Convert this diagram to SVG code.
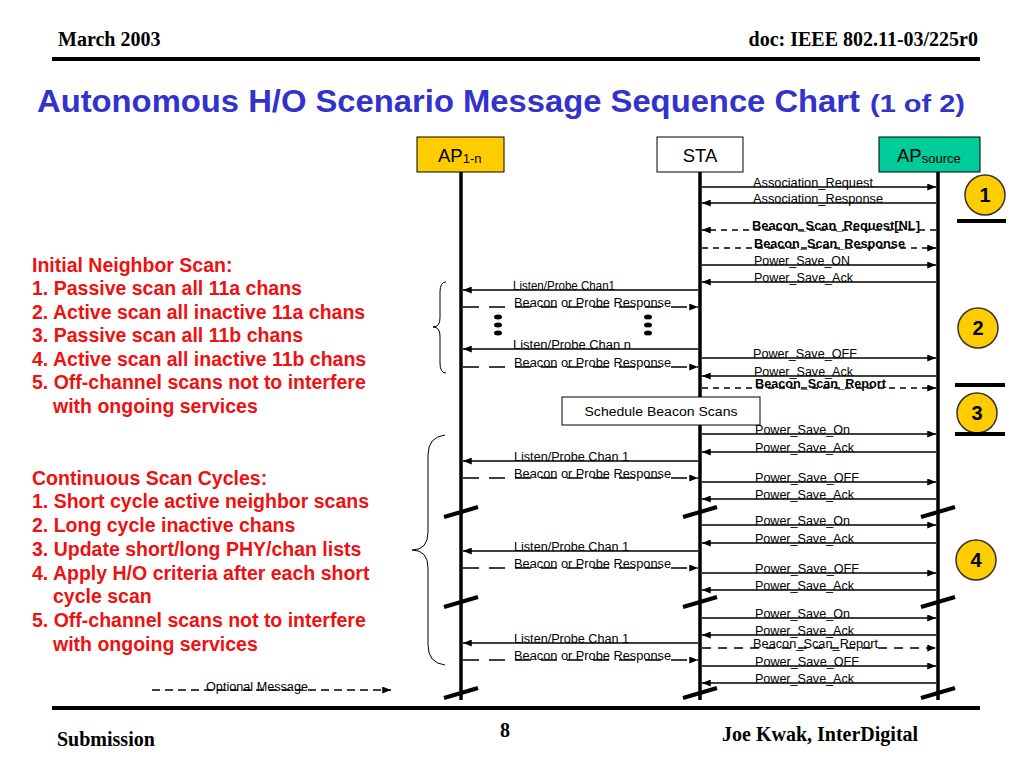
<svg xmlns="http://www.w3.org/2000/svg" width="1024" height="768" viewBox="0 0 1024 768">
<defs>
<marker id="ah" viewBox="0 0 10 8" refX="10" refY="4" markerWidth="9" markerHeight="7" markerUnits="userSpaceOnUse" orient="auto"><path d="M0,0L10,4L0,8z" fill="#000"/></marker>
</defs>
<style>
.hdr{font-family:"Liberation Serif","Times New Roman",serif;font-weight:bold;font-size:20px;fill:#000}
.title{font-family:"Liberation Sans",Arial,sans-serif;font-weight:bold;fill:#3333CC}
.red{font-family:"Liberation Sans",Arial,sans-serif;font-weight:bold;font-size:19.5px;fill:#EE1111}
.box{stroke:#000;stroke-width:1}
.head{font-family:"Liberation Sans",Arial,sans-serif;font-size:18.5px;fill:#000}
.sub{font-size:13px}
.life{stroke:#000;stroke-width:3.5}
.brk{stroke:#000;stroke-width:4}
.msg{stroke:#000;stroke-width:1.5;fill:none;marker-end:url(#ah)}
.d1{stroke-dasharray:6 5}
.d2{stroke-dasharray:16 10}
.d3{stroke-dasharray:9 7}
.d4{stroke-dasharray:8 5}
.lbl{font-family:"Liberation Sans",Arial,sans-serif;font-size:12.5px;fill:#000}
.bold{font-weight:bold}
.circ{fill:#FFCC00;stroke:#333;stroke-width:1.5}
.num{font-family:"Liberation Sans",Arial,sans-serif;font-weight:bold;font-size:20px;fill:#000;text-anchor:middle}
.bar{stroke:#000;stroke-width:4}
.rule{stroke:#000;stroke-width:4}
.brace{fill:none;stroke:#000;stroke-width:1}
</style>

<g id="page">
<text class="hdr" x="58" y="46">March 2003</text>
<text class="hdr" x="978" y="46" text-anchor="end">doc: IEEE 802.11-03/225r0</text>
<line class="rule" x1="52" y1="59" x2="980" y2="59"/>
<text class="title" x="37" y="112" font-size="32" textLength="823" lengthAdjust="spacingAndGlyphs">Autonomous H/O Scenario Message Sequence Chart</text>
<text class="title" x="870" y="112" font-size="23" textLength="95" lengthAdjust="spacingAndGlyphs">(1 of 2)</text>
<line class="rule" x1="52" y1="708" x2="980" y2="708"/>
<text class="hdr" x="57" y="746">Submission</text>
<text class="hdr" x="505" y="737" text-anchor="middle">8</text>
<text class="hdr" x="722" y="741">Joe Kwak, InterDigital</text>
</g>

<g id="notes">
<text class="red" x="32" y="272">Initial Neighbor Scan:</text>
<text class="red" x="32" y="295">1. Passive scan all 11a chans</text>
<text class="red" x="32" y="319">2. Active scan all inactive 11a chans</text>
<text class="red" x="32" y="342">3. Passive scan all 11b chans</text>
<text class="red" x="32" y="366">4. Active scan all inactive 11b chans</text>
<text class="red" x="32" y="389">5. Off-channel scans not to interfere</text>
<text class="red" x="53" y="413">with ongoing services</text>
<text class="red" x="32" y="485">Continuous Scan Cycles:</text>
<text class="red" x="32" y="508">1. Short cycle active neighbor scans</text>
<text class="red" x="32" y="532">2. Long cycle inactive chans</text>
<text class="red" x="32" y="556">3. Update short/long PHY/chan lists</text>
<text class="red" x="32" y="580">4. Apply H/O criteria after each short</text>
<text class="red" x="53" y="603">cycle scan</text>
<text class="red" x="32" y="627">5. Off-channel scans not to interfere</text>
<text class="red" x="53" y="651">with ongoing services</text>
<path class="brace" d="M446,282 Q440,282 440,292 L440,318 Q440,327 433,327 Q440,327 440,336 L440,363 Q440,373 446,373"/>
<path class="brace" d="M445,435 Q428,437 428,455 L428,532 Q428,550 412,550 Q428,550 428,568 L428,645 Q428,663 445,665"/>
</g>

<g id="ap1n">
<rect class="box" x="417" y="137" width="87" height="35" fill="#FFCC00"/>
<text class="head" x="438" y="162">AP<tspan class="sub" dy="1">1-n</tspan></text>
<line class="life" x1="461" y1="172" x2="461" y2="700"/>
</g>
<g id="sta">
<rect class="box" x="657" y="137" width="86" height="35" fill="#FFFFFF"/>
<text class="head" x="700" y="162" text-anchor="middle">STA</text>
<line class="life" x1="700" y1="172" x2="700" y2="700"/>
</g>
<g id="apsource">
<rect class="box" x="879" y="137" width="101" height="35" fill="#00CC99"/>
<text class="head" x="897" y="162">AP<tspan class="sub" dy="1">source</tspan></text>
<line class="life" x1="938" y1="172" x2="938" y2="700"/>
</g>

<g id="breaks">
<line class="brk" x1="444" y1="517" x2="478" y2="507"/>
<line class="brk" x1="683" y1="517" x2="717" y2="507"/>
<line class="brk" x1="921" y1="517" x2="955" y2="507"/>
<line class="brk" x1="444" y1="607" x2="478" y2="597"/>
<line class="brk" x1="683" y1="607" x2="717" y2="597"/>
<line class="brk" x1="921" y1="607" x2="955" y2="597"/>
<line class="brk" x1="444" y1="698" x2="478" y2="688"/>
<line class="brk" x1="683" y1="698" x2="717" y2="688"/>
<line class="brk" x1="921" y1="698" x2="955" y2="688"/>
</g>

<g id="dots">
<ellipse cx="498" cy="317" rx="4" ry="2.5"/>
<ellipse cx="498" cy="325" rx="4" ry="2.5"/>
<ellipse cx="498" cy="333" rx="4" ry="2.5"/>
<ellipse cx="648" cy="317" rx="4" ry="2.5"/>
<ellipse cx="648" cy="325" rx="4" ry="2.5"/>
<ellipse cx="648" cy="333" rx="4" ry="2.5"/>
</g>

<g id="schedule">
<rect x="562" y="397" width="198" height="28" fill="#fff" stroke="#000" stroke-width="1"/>
<text class="lbl" x="661" y="416" font-size="13.5" text-anchor="middle" textLength="153" lengthAdjust="spacingAndGlyphs">Schedule Beacon Scans</text>
</g>

<g id="step1"><circle class="circ" cx="985" cy="195" r="20"/><text class="num" x="985" y="202">1</text></g>
<g id="step2"><circle class="circ" cx="978" cy="328" r="20"/><text class="num" x="978" y="335">2</text></g>
<g id="step3"><circle class="circ" cx="977" cy="413" r="20"/><text class="num" x="977" y="420">3</text></g>
<g id="step4"><circle class="circ" cx="976" cy="560" r="20"/><text class="num" x="976" y="567">4</text></g>
<g id="bars">
<line class="bar" x1="957" y1="221" x2="1006" y2="221"/>
<line class="bar" x1="955" y1="385" x2="1005" y2="385"/>
<line class="bar" x1="955" y1="434" x2="1005" y2="434"/>
</g>

<g id="connectors">
<line class="msg" x1="702" y1="187" x2="936" y2="187"/>
<line class="msg" x1="936" y1="203" x2="702" y2="203"/>
<line class="msg d1" x1="936" y1="230" x2="702" y2="230"/>
<line class="msg d1" x1="702" y1="248" x2="936" y2="248"/>
<line class="msg" x1="702" y1="265" x2="936" y2="265"/>
<line class="msg" x1="936" y1="282" x2="702" y2="282"/>
<line class="msg" x1="702" y1="358" x2="936" y2="358"/>
<line class="msg" x1="936" y1="376" x2="702" y2="376"/>
<line class="msg d1" x1="702" y1="388" x2="936" y2="388"/>
<line class="msg" x1="702" y1="434" x2="936" y2="434"/>
<line class="msg" x1="936" y1="452" x2="702" y2="452"/>
<line class="msg" x1="702" y1="482" x2="936" y2="482"/>
<line class="msg" x1="936" y1="499" x2="702" y2="499"/>
<line class="msg" x1="702" y1="525" x2="936" y2="525"/>
<line class="msg" x1="936" y1="543" x2="702" y2="543"/>
<line class="msg" x1="702" y1="573" x2="936" y2="573"/>
<line class="msg" x1="936" y1="590" x2="702" y2="590"/>
<line class="msg" x1="702" y1="618" x2="936" y2="618"/>
<line class="msg" x1="936" y1="635" x2="702" y2="635"/>
<line class="msg d3" x1="702" y1="648" x2="936" y2="648"/>
<line class="msg" x1="702" y1="666" x2="936" y2="666"/>
<line class="msg" x1="936" y1="683" x2="702" y2="683"/>

<line class="msg" x1="698" y1="290" x2="463" y2="290"/>
<line class="msg d2" x1="463" y1="307" x2="698" y2="307"/>
<line class="msg" x1="698" y1="349" x2="463" y2="349"/>
<line class="msg d2" x1="463" y1="367" x2="698" y2="367"/>
<line class="msg" x1="698" y1="461" x2="463" y2="461"/>
<line class="msg d2" x1="463" y1="478" x2="698" y2="478"/>
<line class="msg" x1="698" y1="551" x2="463" y2="551"/>
<line class="msg d2" x1="463" y1="568" x2="698" y2="568"/>
<line class="msg" x1="698" y1="643" x2="463" y2="643"/>
<line class="msg d2" x1="463" y1="660" x2="698" y2="660"/>

<line class="msg d4" x1="152" y1="690" x2="391" y2="690"/>
</g>

<g id="labels">
<text class="lbl" x="753" y="187" textLength="120" lengthAdjust="spacingAndGlyphs">Association_Request</text>
<text class="lbl" x="753" y="203" textLength="130" lengthAdjust="spacingAndGlyphs">Association_Response</text>
<text class="lbl bold" x="752" y="230" textLength="168" lengthAdjust="spacingAndGlyphs">Beacon_Scan_Request[NL]</text>
<text class="lbl bold" x="754" y="248" textLength="151" lengthAdjust="spacingAndGlyphs">Beacon_Scan_Response</text>
<text class="lbl" x="754" y="265" textLength="96" lengthAdjust="spacingAndGlyphs">Power_Save_ON</text>
<text class="lbl" x="754" y="282" textLength="99" lengthAdjust="spacingAndGlyphs">Power_Save_Ack</text>
<text class="lbl" x="753" y="358" textLength="104" lengthAdjust="spacingAndGlyphs">Power_Save_OFF</text>
<text class="lbl" x="754" y="376" textLength="99" lengthAdjust="spacingAndGlyphs">Power_Save_Ack</text>
<text class="lbl bold" x="755" y="388" textLength="131" lengthAdjust="spacingAndGlyphs">Beacon_Scan_Report</text>
<text class="lbl" x="755" y="434" textLength="95" lengthAdjust="spacingAndGlyphs">Power_Save_On</text>
<text class="lbl" x="755" y="452" textLength="99" lengthAdjust="spacingAndGlyphs">Power_Save_Ack</text>
<text class="lbl" x="755" y="482" textLength="104" lengthAdjust="spacingAndGlyphs">Power_Save_OFF</text>
<text class="lbl" x="755" y="499" textLength="99" lengthAdjust="spacingAndGlyphs">Power_Save_Ack</text>
<text class="lbl" x="755" y="525" textLength="95" lengthAdjust="spacingAndGlyphs">Power_Save_On</text>
<text class="lbl" x="755" y="543" textLength="99" lengthAdjust="spacingAndGlyphs">Power_Save_Ack</text>
<text class="lbl" x="755" y="573" textLength="104" lengthAdjust="spacingAndGlyphs">Power_Save_OFF</text>
<text class="lbl" x="755" y="590" textLength="99" lengthAdjust="spacingAndGlyphs">Power_Save_Ack</text>
<text class="lbl" x="755" y="618" textLength="95" lengthAdjust="spacingAndGlyphs">Power_Save_On</text>
<text class="lbl" x="755" y="635" textLength="99" lengthAdjust="spacingAndGlyphs">Power_Save_Ack</text>
<text class="lbl" x="753" y="648" textLength="125" lengthAdjust="spacingAndGlyphs">Beacon_Scan_Report</text>
<text class="lbl" x="755" y="666" textLength="104" lengthAdjust="spacingAndGlyphs">Power_Save_OFF</text>
<text class="lbl" x="755" y="683" textLength="99" lengthAdjust="spacingAndGlyphs">Power_Save_Ack</text>

<text class="lbl" x="513" y="290" textLength="102" lengthAdjust="spacingAndGlyphs">Listen/Probe Chan1</text>
<text class="lbl" x="514" y="307" textLength="157" lengthAdjust="spacingAndGlyphs">Beacon or Probe Response</text>
<text class="lbl" x="513" y="349" textLength="118" lengthAdjust="spacingAndGlyphs">Listen/Probe Chan n</text>
<text class="lbl" x="514" y="367" textLength="157" lengthAdjust="spacingAndGlyphs">Beacon or Probe Response</text>
<text class="lbl" x="514" y="461" textLength="115" lengthAdjust="spacingAndGlyphs">Listen/Probe Chan 1</text>
<text class="lbl" x="514" y="478" textLength="157" lengthAdjust="spacingAndGlyphs">Beacon or Probe Response</text>
<text class="lbl" x="514" y="551" textLength="115" lengthAdjust="spacingAndGlyphs">Listen/Probe Chan 1</text>
<text class="lbl" x="514" y="568" textLength="157" lengthAdjust="spacingAndGlyphs">Beacon or Probe Response</text>
<text class="lbl" x="514" y="643" textLength="115" lengthAdjust="spacingAndGlyphs">Listen/Probe Chan 1</text>
<text class="lbl" x="514" y="660" textLength="157" lengthAdjust="spacingAndGlyphs">Beacon or Probe Response</text>
<text class="lbl" x="206" y="691" textLength="102" lengthAdjust="spacingAndGlyphs">Optional Message</text>
</g>
</svg>
